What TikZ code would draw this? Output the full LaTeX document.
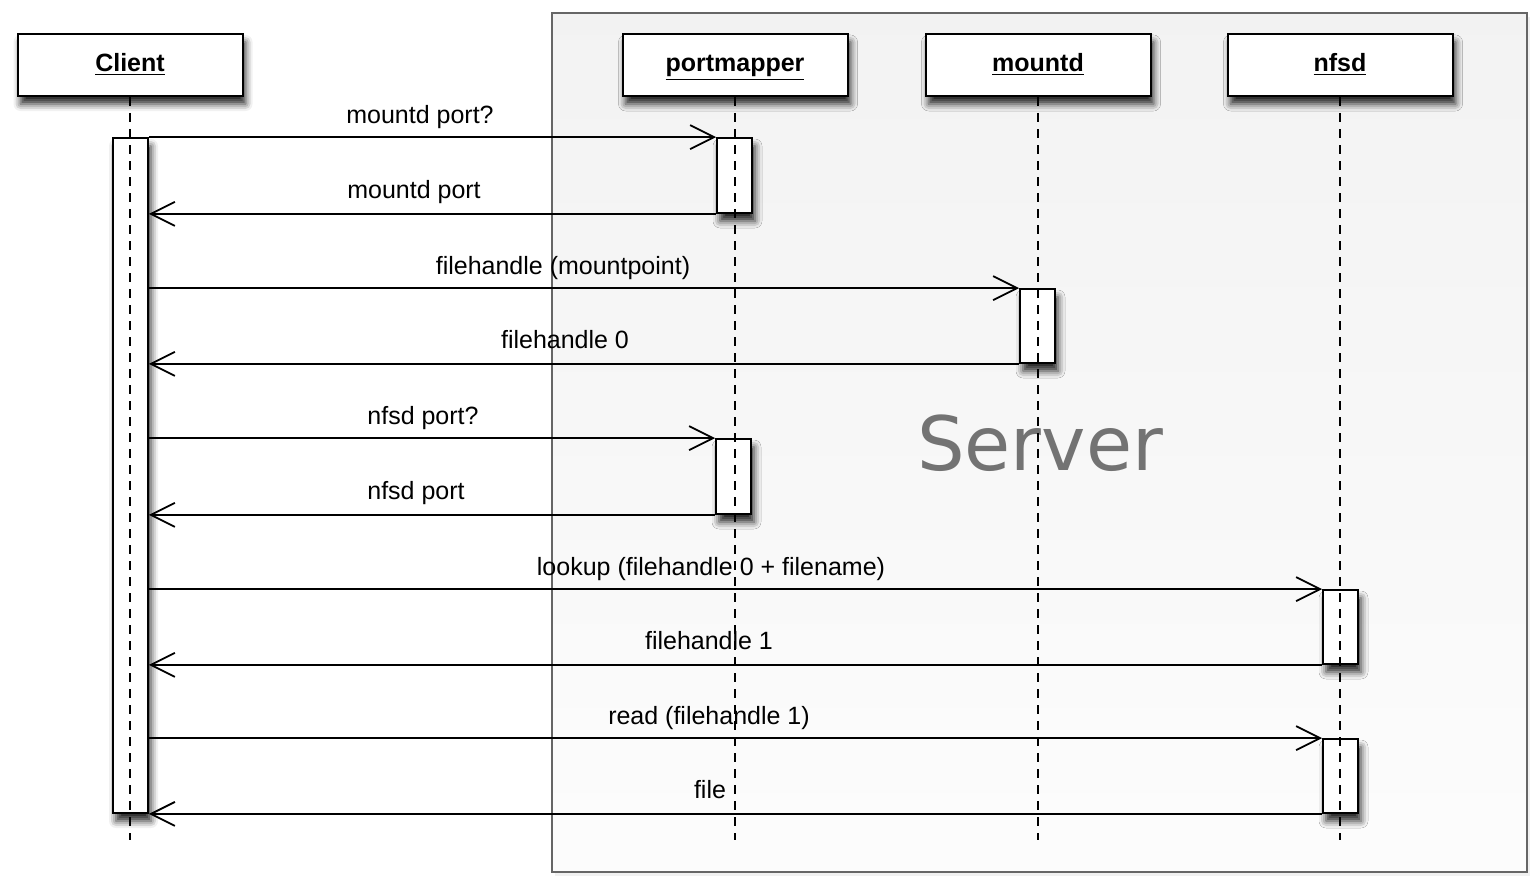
\documentclass[tikz,border=0pt]{standalone}
\usepackage{fontspec}
\setmainfont{Liberation Sans}
\newfontfamily\serverfont{DejaVu Sans}
\usetikzlibrary{arrows.meta,shadows.blur}

\tikzset{
  shadowed/.style={blur shadow={shadow xshift=1.5pt, shadow yshift=-4pt,
      shadow blur radius=3.5pt, shadow opacity=85}},
  head/.style={draw, line width=1pt, fill=white, shadowed,
      minimum width=112.5pt, minimum height=31pt, inner sep=0pt,
      text height=9pt, text depth=2.5pt,
      font=\fontsize{12.5}{15}\selectfont\bfseries},
  act/.style={draw, line width=0.9pt, fill=white, shadowed,
      minimum width=17.5pt, inner sep=0pt},
  life/.style={line width=0.8pt, dash pattern=on 4.5pt off 3.5pt},
  msg/.style={line width=0.8pt,
      -{Straight Barb[length=12pt, width=12pt, line width=0.9pt]}},
  lbl/.style={anchor=base, inner sep=0pt, font=\fontsize{12.5}{15}\selectfont}
}

\begin{document}
\begin{tikzpicture}[x=0.5pt, y=-0.5pt]
\useasboundingbox (0,0) rectangle (1540,883);

%% the server frame
\fill[black!8, opacity=0.7] (555,17) rectangle (1530,876);
\shade[top color=black!5, bottom color=black!1, draw=black!60, line width=0.9pt]
  (552,13) rectangle (1527,872);
\node[text=black!55, font=\serverfont\fontsize{37.5}{40}\selectfont, anchor=base]
  (server) at (1040,470) {Server};

%% heads of the lifelines
\node[head] (client) at (130,65) {\underline{Client}};
\node[head] (pmap)   at (735,65) {\underline{portmapper}};
\node[head] (mountd) at (1038,65) {\underline{mountd}};
\node[head] (nfsd)   at (1340,65) {\underline{nfsd}};

%% activations
\node[act, minimum height=337.5pt] (cact) at (130.5,475.5) {};
\node[act, minimum height=37.5pt] (pm1) at (734.5,175.5) {};
\node[act, minimum height=37pt]   (md1) at (1037.5,326) {};
\node[act, minimum height=37.5pt] (pm2) at (733.5,476.5) {};
\node[act, minimum height=37pt]   (nf1) at (1340.5,627) {};
\node[act, minimum height=37pt]   (nf2) at (1340.5,776) {};

%% lifelines
\foreach \n in {client, pmap, mountd, nfsd} {
  \coordinate (\n end) at (\n.south |- 0,840);
  \draw[life] (\n.south) -- (\n end);
}

%% messages
\draw[msg] (cact.east |- pm1.north) -- (pm1.north west);
\draw[msg] (pm1.south west) -- (cact.east |- pm1.south);
\draw[msg] (cact.east |- md1.north) -- (md1.north west);
\draw[msg] (md1.south west) -- (cact.east |- md1.south);
\draw[msg] (cact.east |- pm2.north) -- (pm2.north west);
\draw[msg] (pm2.south west) -- (cact.east |- pm2.south);
\draw[msg] (cact.east |- nf1.north) -- (nf1.north west);
\draw[msg] (nf1.south west) -- (cact.east |- nf1.south);
\draw[msg] (cact.east |- nf2.north) -- (nf2.north west);
\draw[msg] (nf2.south west) -- (cact.east |- nf2.south);

%% labels
\node[lbl] at (420,123) {mountd port?};
\node[lbl] at (414,198) {mountd port};
\node[lbl] at (563,274) {filehandle (mountpoint)};
\node[lbl] at (565,348) {filehandle 0};
\node[lbl] at (423,424) {nfsd port?};
\node[lbl] at (416,499) {nfsd port};
\node[lbl] at (711,575) {lookup (filehandle 0 + filename)};
\node[lbl] at (709,649) {filehandle 1};
\node[lbl] at (709,724) {read (filehandle 1)};
\node[lbl] at (710,798) {file};

\end{tikzpicture}
\end{document}
